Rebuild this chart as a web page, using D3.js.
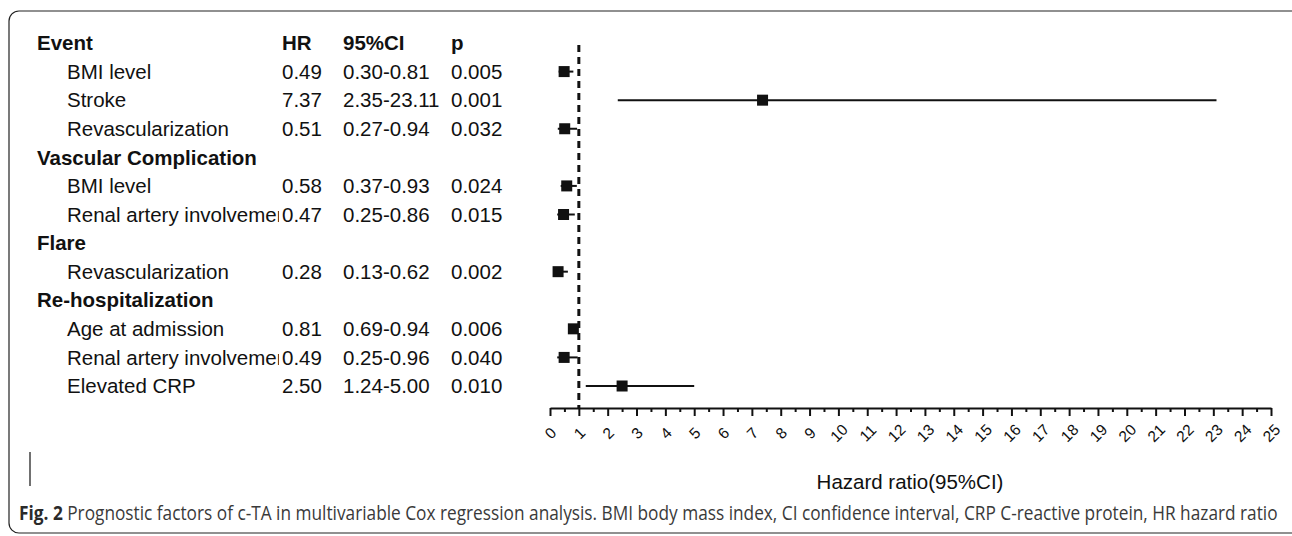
<!DOCTYPE html>
<html>
<head>
<meta charset="utf-8">
<script src="https://cdn.jsdelivr.net/npm/d3@7"></script>
<style>
  body { margin: 0; background: #fff; }
  svg { display: block; }
  text { font-family: "Liberation Sans", Arial, sans-serif; fill: #111; }
</style>
</head>
<body>
<svg id="chart"></svg>
<script>
// rows of the forest plot (group rows have no values)
const labels = ['BMI level', 'Stroke', 'Revascularization', 'Vascular Complication', 'BMI level',
  'Renal artery involvement', 'Flare', 'Revascularization', 'Re-hospitalization', 'Age at admission',
  'Renal artery involvement', 'Elevated CRP'];
const isGroup = [false, false, false, true, false, false, true, false, true, false, false, false];
const hr = [0.49, 7.37, 0.51, null, 0.58, 0.47, null, 0.28, null, 0.81, 0.49, 2.50];
const lower = [0.30, 2.35, 0.27, null, 0.37, 0.25, null, 0.13, null, 0.69, 0.25, 1.24];
const upper = [0.81, 23.11, 0.94, null, 0.93, 0.86, null, 0.62, null, 0.94, 0.96, 5.00];
const pValues = ['0.005', '0.001', '0.032', '', '0.024', '0.015', '', '0.002', '', '0.006', '0.040', '0.010'];
const headers = ['Event', 'HR', '95%CI', 'p'];
const xTicks = d3.range(0, 26);
const xMinorTicks = d3.range(0.5, 25, 1);

const width = 1292, height = 536;
const svg = d3.select('#chart').attr('width', width).attr('height', height);

// frame
svg.append('rect')
  .attr('x', 9).attr('y', 11)
  .attr('width', 1300).attr('height', 522)
  .attr('rx', 10).attr('ry', 10)
  .attr('fill', 'none').attr('stroke', '#222').attr('stroke-width', 1.2);

// scales
const x = d3.scaleLinear().domain([0, 25]).range([550, 1271]);
const y = d3.scaleLinear().domain([0, 12]).range([43, 386]);

const colX = { label: 37, indent: 67, hr: 282, ci: 343, p: 451 };
const fontSize = 20.5;

// clip for the long labels
svg.append('defs').append('clipPath').attr('id', 'labelClip')
  .append('rect').attr('x', 0).attr('y', 0).attr('width', 279).attr('height', height);

// header
const head = svg.append('g').attr('font-weight', 'bold').attr('font-size', fontSize);
head.append('text').attr('x', colX.label).attr('y', y(0)).attr('dy', '0.35em').text(headers[0]);
head.append('text').attr('x', colX.hr).attr('y', y(0)).attr('dy', '0.35em').text(headers[1]);
head.append('text').attr('x', colX.ci).attr('y', y(0)).attr('dy', '0.35em').text(headers[2]);
head.append('text').attr('x', colX.p).attr('y', y(0)).attr('dy', '0.35em').text(headers[3]);

const rows = labels.map((l, i) => ({
  label: l, group: isGroup[i], hr: hr[i], lo: lower[i], hi: upper[i], p: pValues[i], row: i + 1
}));

const rowG = svg.append('g').attr('font-size', fontSize);

rowG.selectAll('.lab')
  .data(rows)
  .enter()
  .append('text')
  .attr('class', 'lab')
  .attr('clip-path', 'url(#labelClip)')
  .attr('x', d => d.group ? colX.label : colX.indent)
  .attr('y', d => y(d.row))
  .attr('dy', '0.35em')
  .attr('font-weight', d => d.group ? 'bold' : 'normal')
  .text(d => d.label);

const vals = rows.filter(d => !d.group);

rowG.selectAll('.hr')
  .data(vals).enter().append('text')
  .attr('x', colX.hr).attr('y', d => y(d.row)).attr('dy', '0.35em')
  .text(d => d.hr.toFixed(2));

rowG.selectAll('.ci')
  .data(vals).enter().append('text')
  .attr('x', colX.ci).attr('y', d => y(d.row)).attr('dy', '0.35em')
  .text(d => d.lo.toFixed(2) + '-' + d.hi.toFixed(2));

rowG.selectAll('.pv')
  .data(vals).enter().append('text')
  .attr('x', colX.p).attr('y', d => y(d.row)).attr('dy', '0.35em')
  .text(d => d.p);

// axis
const axisY = 408;
const axisG = svg.append('g').attr('transform', `translate(0,${axisY})`);
axisG.call(d3.axisBottom(x).tickValues(xTicks).tickSize(8).tickSizeOuter(0));
axisG.select('.domain').attr('stroke', '#111').attr('stroke-width', 2.2);
axisG.selectAll('.tick line').attr('stroke', '#111').attr('stroke-width', 2);
axisG.selectAll('.tick text')
  .attr('font-size', 15.5)
  .attr('font-family', '"Liberation Sans", Arial, sans-serif')
  .attr('fill', '#111')
  .attr('text-anchor', 'middle')
  .attr('x', 0).attr('y', 0)
  .attr('dy', '0.35em')
  .attr('transform', 'translate(0,25) rotate(-45)');

const minorG = svg.append('g').attr('transform', `translate(0,${axisY})`);
minorG.call(d3.axisBottom(x).tickValues(xMinorTicks).tickSize(4).tickFormat(''));
minorG.select('.domain').remove();
minorG.selectAll('.tick line').attr('stroke', '#111').attr('stroke-width', 2);

svg.append('text')
  .attr('x', 910).attr('y', 482).attr('dy', '0.35em')
  .attr('text-anchor', 'middle').attr('font-size', fontSize)
  .text('Hazard ratio(95%CI)');

// reference line at HR = 1
svg.append('line')
  .attr('x1', x(1)).attr('x2', x(1))
  .attr('y1', 45).attr('y2', axisY)
  .attr('stroke', '#111').attr('stroke-width', 3)
  .attr('stroke-dasharray', '7,5');

// confidence intervals and points
const marks = svg.append('g');
marks.selectAll('.ci-line')
  .data(vals).enter().append('line')
  .attr('x1', d => x(d.lo)).attr('x2', d => x(d.hi))
  .attr('y1', d => y(d.row)).attr('y2', d => y(d.row))
  .attr('stroke', '#111').attr('stroke-width', 2);

const sq = 11;
marks.selectAll('.pt')
  .data(vals).enter().append('rect')
  .attr('x', d => x(d.hr) - sq / 2).attr('y', d => y(d.row) - sq / 2)
  .attr('width', sq).attr('height', sq)
  .attr('fill', '#111');

// stray cursor bar
svg.append('line')
  .attr('x1', 30).attr('x2', 30).attr('y1', 452).attr('y2', 486)
  .attr('stroke', '#111').attr('stroke-width', 1.2);

// caption, squeezed horizontally to fit the frame like the condensed original font
const capG = svg.append('g');
const cap = capG.append('text')
  .attr('x', 0).attr('y', 0)
  .attr('font-size', 19.5)
  .style('font-family', '"Open Sans", "Noto Sans", sans-serif');
cap.append('tspan').attr('font-weight', 'bold').style('fill', '#2a2a2a').text('Fig. 2');
cap.append('tspan').style('fill', '#3a3a3a')
  .text(' Prognostic factors of c-TA in multivariable Cox regression analysis. BMI body mass index, CI confidence interval, CRP C-reactive protein, HR hazard ratio');
const capLen = cap.node().getComputedTextLength();
capG.attr('transform', `translate(19,520) scale(${1259 / capLen},1)`);
</script>
</body>
</html>
